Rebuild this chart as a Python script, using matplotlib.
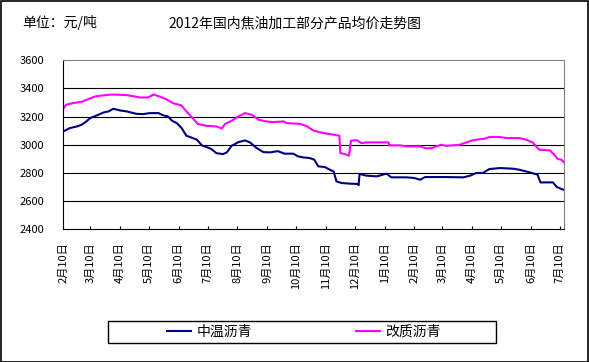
import pandas as pd
import matplotlib
matplotlib.use("Agg")
import matplotlib.pyplot as plt
from matplotlib.patches import Rectangle

plt.rcParams["font.family"] = ["Noto Sans CJK SC", "DejaVu Sans"]

# ---------------------------------------------------------------------
# Data (day = days after 2011-02-10)
# ---------------------------------------------------------------------
START = pd.Timestamp("2011-02-10")

mid_days = [0, 7, 14, 19, 24, 28, 35, 42, 47, 52, 59, 66, 76, 83, 90, 99, 104, 109,
            113, 118, 123, 128, 133, 139, 144, 149, 154, 159, 166, 170, 175, 182, 189,
            194, 201, 208, 215, 223, 230, 239, 244, 249, 256, 261, 265, 272, 277, 281,
            284, 289, 298, 306, 307, 308, 315, 326, 336, 341, 357, 365, 371, 376, 398,
            416, 423, 429, 436, 443, 454, 468, 474, 485, 493, 496, 509, 513, 518, 520]
mid_vals = [3095, 3119, 3130, 3142, 3166, 3190, 3209, 3230, 3237, 3256, 3244, 3237,
            3220, 3218, 3225, 3225, 3209, 3201, 3171, 3154, 3119, 3064, 3052, 3036,
            2996, 2984, 2970, 2941, 2934, 2946, 2993, 3019, 3031, 3017, 2977, 2948,
            2946, 2955, 2937, 2937, 2918, 2911, 2906, 2894, 2847, 2842, 2823, 2811,
            2740, 2729, 2724, 2722, 2713, 2793, 2781, 2776, 2795, 2769, 2769, 2764,
            2752, 2771, 2771, 2769, 2781, 2800, 2800, 2828, 2835, 2830, 2823, 2804,
            2788, 2733, 2733, 2700, 2686, 2681]

mod_days = [0, 3, 10, 19, 26, 33, 40, 50, 66, 80, 88, 94, 100, 107, 114, 123, 128,
            133, 140, 149, 159, 165, 168, 175, 182, 189, 196, 203, 211, 218, 229, 232,
            246, 253, 260, 267, 274, 282, 287, 288, 293, 297, 299, 305, 310, 315, 338,
            339, 350, 357, 371, 377, 383, 388, 393, 398, 405, 412, 417, 424, 429, 438,
            443, 454, 461, 474, 481, 488, 492, 495, 506, 511, 514, 518, 520]
mod_vals = [3256, 3284, 3296, 3305, 3324, 3343, 3350, 3357, 3353, 3336, 3336, 3357,
            3343, 3324, 3296, 3279, 3237, 3201, 3147, 3135, 3130, 3116, 3147, 3171,
            3201, 3225, 3213, 3178, 3166, 3161, 3166, 3154, 3149, 3133, 3101, 3089,
            3079, 3071, 3064, 2941, 2934, 2922, 3029, 3033, 3012, 3017, 3017, 2996,
            2996, 2989, 2989, 2975, 2977, 2989, 3000, 2993, 2996, 3000, 3012, 3029,
            3036, 3043, 3055, 3055, 3048, 3048, 3036, 3017, 2984, 2965, 2960, 2925,
            2899, 2894, 2877]

series_names = ["中温沥青", "改质沥青"]
series_colors = ["#000080", "#FF00FF"]

tick_dates = pd.date_range("2011-02-10", "2012-07-10", freq=pd.DateOffset(months=1))
tick_labels = [f"{d.month}月10日" for d in tick_dates]

y_ticks = [2400, 2600, 2800, 3000, 3200, 3400, 3600]

# ---------------------------------------------------------------------
# Plot
# ---------------------------------------------------------------------
W, H = 589, 362
fig = plt.figure(figsize=(W / 100, H / 100), dpi=100)
ax = fig.add_axes([62.7 / W, 1 - 229.3 / H, (564 - 62.7) / W, (229.3 - 60.3) / H])

mid_x = START + pd.to_timedelta(mid_days, unit="D")
mod_x = START + pd.to_timedelta(mod_days, unit="D")

ax.plot(mid_x, mid_vals, color=series_colors[0], lw=1.5, label=series_names[0])
ax.plot(mod_x, mod_vals, color=series_colors[1], lw=1.5, label=series_names[1])

for yv in y_ticks[1:-1]:
    ax.axhline(yv, color="black", lw=0.8, zorder=0)

ax.set_ylim(2400, 3600)
ax.set_xlim(START - pd.Timedelta(days=0.6), START + pd.Timedelta(days=520.5))
ax.set_yticks(y_ticks)
ax.tick_params(axis="y", length=0, pad=13.5, labelsize=8)
ax.set_xticks(tick_dates)
ax.set_xticklabels(tick_labels, rotation=90, fontsize=8)
ax.tick_params(axis="x", direction="in", length=2.5, width=0.8, pad=9.5)

for side in ["left", "bottom"]:
    ax.spines[side].set_color("black")
    ax.spines[side].set_linewidth(0.8)
for side in ["top", "right"]:
    ax.spines[side].set_color("#808080")
    ax.spines[side].set_linewidth(0.8)

# titles
fig.text(22 / W, 1 - 23 / H, "单位：元/吨", fontsize=10, va="center", ha="left")
fig.text(168 / W, 1 - 23 / H, "2012年国内焦油加工部分产品均价走势图", fontsize=10,
         va="center", ha="left")

# legend box + legend
fig.patches.append(Rectangle((108 / W, 1 - 343.3 / H), 388 / W, 22.6 / H,
                             transform=fig.transFigure, fill=False,
                             edgecolor="black", lw=1.0))
fig.legend(loc="center", bbox_to_anchor=(304 / W, 1 - 332 / H), ncol=2,
           frameon=False, fontsize=10, handlelength=1.7, handletextpad=0.4,
           columnspacing=7.5)

# outer border
fig.patches.append(Rectangle((0.5 / W, 0.5 / H), (W - 2) / W, (H - 1.5) / H,
                             transform=fig.transFigure, fill=False,
                             edgecolor="black", lw=1.2))

fig.savefig("out.png", dpi=100)
